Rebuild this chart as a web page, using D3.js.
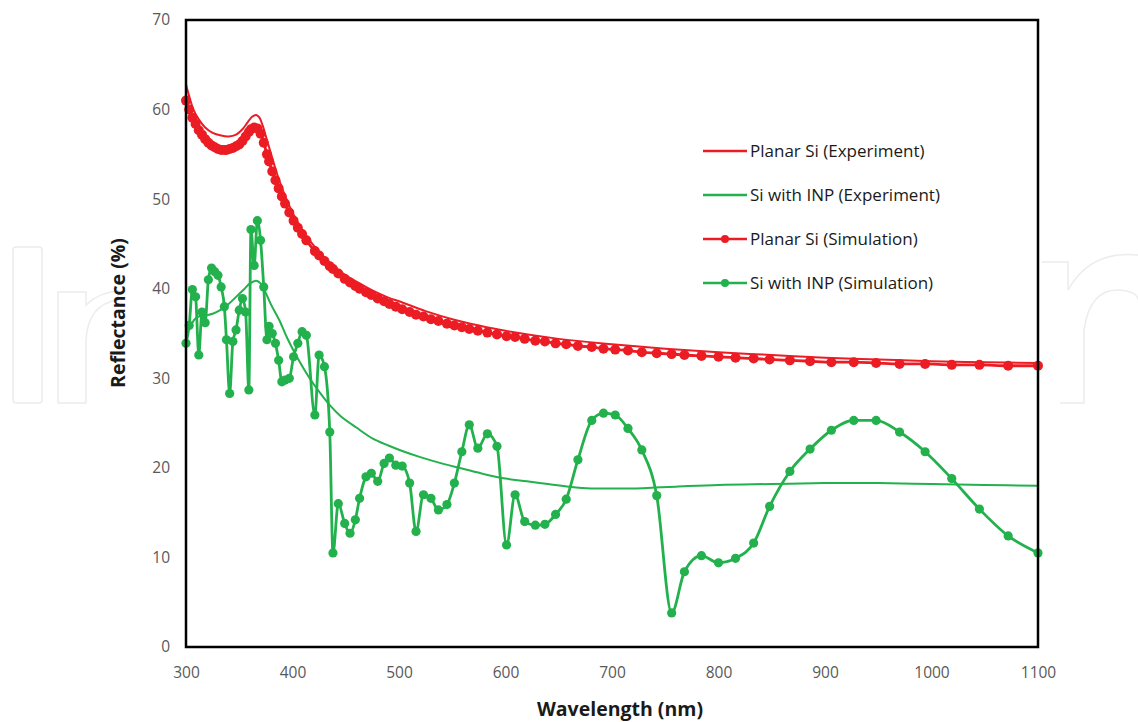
<!DOCTYPE html>
<html>
<head>
<meta charset="utf-8">
<script src="https://cdn.jsdelivr.net/npm/d3@7"></script>
<style>
  body { margin: 0; background: #fff; }
  svg { display: block; font-family: "Open Sans", "Noto Sans", sans-serif; }
</style>
</head>
<body>
<svg width="1138" height="722"></svg>
<script>
// experiment: planar Si (wavelength, reflectance)
const redExpWl  = [300, 303, 307, 312, 318, 325, 333, 340, 347, 353, 358, 362, 366, 369, 372, 376, 380, 385, 390, 395, 400, 410, 420, 430, 440, 450, 460, 475, 490, 500, 525, 550, 575, 600, 650, 700, 750, 800, 850, 900, 950, 1000, 1050, 1100]
const redExpVal = [62.8, 61.5, 60.0, 58.9, 58.0, 57.4, 57.1, 57.0, 57.2, 57.8, 58.6, 59.2, 59.4, 59.1, 58.2, 56.6, 55.0, 53.0, 51.3, 49.8, 48.5, 46.4, 44.8, 43.5, 42.4, 41.5, 40.8, 39.8, 39.0, 38.6, 37.5, 36.6, 35.9, 35.3, 34.4, 33.8, 33.3, 32.9, 32.6, 32.3, 32.1, 31.9, 31.8, 31.7]

// experiment: Si with INP
const greenExpWl  = [300, 305, 310, 318, 325, 332, 340, 348, 355, 360, 366, 370, 375, 380, 388, 395, 405, 415, 425, 435, 445, 460, 475, 490, 505, 520, 540, 560, 580, 600, 620, 640, 660, 680, 700, 720, 740, 760, 800, 850, 900, 950, 1000, 1050, 1100]
const greenExpVal = [34.8, 36.0, 36.8, 37.0, 37.2, 37.6, 38.3, 39.2, 40.0, 40.6, 40.9, 40.6, 39.5, 38.2, 36.4, 34.5, 32.2, 30.2, 28.5, 27.0, 25.8, 24.5, 23.3, 22.5, 21.8, 21.2, 20.5, 19.9, 19.3, 18.8, 18.5, 18.2, 17.9, 17.7, 17.7, 17.7, 17.8, 17.9, 18.1, 18.2, 18.3, 18.3, 18.2, 18.1, 18.0]

// simulation wavelengths (shared by both simulated series)
const simWl = [300, 303, 306, 309, 312, 315, 318, 321, 324, 327, 330, 333, 336, 338, 341, 344, 347, 350, 353, 356, 359, 361, 364, 367, 370, 373, 376, 378, 381, 384, 387, 390, 393, 397, 401, 405, 409, 413, 421, 425, 430, 435, 438, 443, 449, 454, 459, 463, 469, 474, 480, 486, 491, 497, 503, 510, 516, 523, 530, 537, 545, 552, 559, 566, 574, 583, 592, 601, 609, 618, 628, 637, 647, 657, 668, 681, 692, 703, 715, 728, 742, 756, 768, 784, 800, 816, 833, 848, 867, 886, 906, 927, 948, 970, 994, 1019, 1045, 1072, 1100]
const redSimVal = [61.0, 60.0, 59.1, 58.4, 57.7, 57.2, 56.7, 56.3, 56.0, 55.8, 55.6, 55.5, 55.5, 55.5, 55.6, 55.7, 55.9, 56.1, 56.5, 57.0, 57.5, 57.8, 58.0, 57.9, 57.3, 56.3, 55.0, 54.2, 53.1, 52.1, 51.2, 50.3, 49.5, 48.5, 47.6, 46.8, 46.1, 45.4, 44.2, 43.7, 43.1, 42.5, 42.2, 41.7, 41.1, 40.7, 40.3, 40.0, 39.6, 39.3, 38.9, 38.6, 38.3, 38.0, 37.7, 37.4, 37.1, 36.9, 36.6, 36.4, 36.1, 35.9, 35.7, 35.5, 35.3, 35.1, 34.9, 34.7, 34.6, 34.4, 34.2, 34.1, 33.9, 33.8, 33.6, 33.5, 33.3, 33.2, 33.1, 32.9, 32.8, 32.7, 32.6, 32.5, 32.4, 32.3, 32.2, 32.1, 32.0, 31.9, 31.8, 31.8, 31.7, 31.6, 31.6, 31.5, 31.5, 31.4, 31.4]
const greenSimVal = [33.9, 35.9, 39.9, 39.1, 32.6, 37.4, 36.2, 41.0, 42.3, 41.9, 41.5, 40.2, 38.0, 34.3, 28.3, 34.1, 35.4, 37.6, 38.9, 37.4, 28.7, 46.6, 42.6, 47.6, 45.4, 40.2, 34.3, 35.8, 35.0, 33.9, 32.0, 29.6, 29.8, 30.0, 32.4, 33.9, 35.2, 34.8, 25.9, 32.6, 31.3, 24.0, 10.5, 16.0, 13.8, 12.7, 14.2, 16.6, 19.0, 19.4, 18.5, 20.5, 21.1, 20.3, 20.2, 18.3, 12.9, 17.0, 16.6, 15.3, 15.9, 18.3, 21.8, 24.8, 22.2, 23.8, 22.4, 11.4, 17.0, 14.0, 13.6, 13.7, 14.8, 16.5, 20.9, 25.3, 26.1, 25.9, 24.4, 22.0, 16.9, 3.8, 8.4, 10.2, 9.4, 9.9, 11.6, 15.7, 19.6, 22.1, 24.2, 25.3, 25.3, 24.0, 21.8, 18.8, 15.4, 12.4, 10.5]

const xTicks = [300, 400, 500, 600, 700, 800, 900, 1000, 1100]
const yTicks = [0, 10, 20, 30, 40, 50, 60, 70]

const RED = "#ec1c24"
const GREEN = "#22b14c"

const zip = (a, b) => a.map((v, i) => [v, b[i]])

const series = [
    { name: "Planar Si (Experiment)", color: RED, pts: zip(redExpWl, redExpVal), dots: false, r: 0 },
    { name: "Si with INP (Experiment)", color: GREEN, pts: zip(greenExpWl, greenExpVal), dots: false, r: 0 },
    { name: "Planar Si (Simulation)", color: RED, pts: zip(simWl, redSimVal), dots: true, r: 5 },
    { name: "Si with INP (Simulation)", color: GREEN, pts: zip(simWl, greenSimVal), dots: true, r: 4.6 }
]

const svg = d3.select("svg")

// faint watermark behind the chart
const wm = svg.append("g").attr("fill", "none").attr("stroke", "#ececec").attr("stroke-width", 1.5)
wm.append("rect").attr("x", 13).attr("y", 247).attr("width", 29).attr("height", 156).attr("rx", 3)
wm.append("path").attr("d", "M58,403 L58,292 L86,292 L86,305 Q100,292 118,291 L118,300 Q88,304 86,340 L86,403 Z")
wm.append("path").attr("d", "M1138,255 Q1090,250 1068,290 L1068,262 L1042,262 M1060,403 L1084,403 L1084,330 Q1090,288 1120,290 Q1138,292 1138,300")

const x = d3.scaleLinear().domain([300, 1100]).range([186, 1038])
const y = d3.scaleLinear().domain([0, 70]).range([647, 20])

svg.append("rect")
    .attr("x", x(300)).attr("y", y(70))
    .attr("width", x(1100) - x(300)).attr("height", y(0) - y(70))
    .attr("fill", "#fff")

// axes (labels only, frame drawn separately)
const yAxis = svg.append("g")
    .attr("transform", `translate(${x(300) - 12},0)`)
    .call(d3.axisLeft(y).tickValues(yTicks).tickSize(0).tickPadding(4).tickFormat(d3.format("d")))
yAxis.select(".domain").remove()
yAxis.selectAll("text").attr("font-size", 15.5).attr("fill", "#595959")
    .attr("font-family", "'Open Sans', sans-serif")

const xAxis = svg.append("g")
    .attr("transform", `translate(0,${y(0) + 18})`)
    .call(d3.axisBottom(x).tickValues(xTicks).tickSize(0).tickPadding(2).tickFormat(d3.format("d")))
xAxis.select(".domain").remove()
xAxis.selectAll("text").attr("font-size", 15.5).attr("fill", "#595959")
    .attr("font-family", "'Open Sans', sans-serif")

const line = d3.line().x(d => x(d[0])).y(d => y(d[1]))

const plot = svg.append("g")

// simulations first, experiments on top
const order = [2, 3, 0, 1]
order.forEach(i => {
    const s = series[i]
    const g = plot.append("g")
    g.append("path")
        .datum(s.pts)
        .attr("fill", "none")
        .attr("stroke", s.color)
        .attr("stroke-width", s.dots ? 2.8 : 2)
        .attr("stroke-linejoin", "round")
        .attr("d", line.curve(s.dots ? d3.curveMonotoneX : d3.curveCatmullRom.alpha(0.5)))
    if (s.dots) {
        g.selectAll("circle")
            .data(s.pts)
            .enter().append("circle")
            .attr("cx", d => x(d[0]))
            .attr("cy", d => y(d[1]))
            .attr("r", s.r)
            .attr("fill", s.color)
    }
})

// frame
svg.append("rect")
    .attr("x", x(300)).attr("y", y(70))
    .attr("width", x(1100) - x(300)).attr("height", y(0) - y(70))
    .attr("fill", "none").attr("stroke", "#000").attr("stroke-width", 2.5)

// legend
const legend = svg.append("g").attr("transform", "translate(703,151)")
series.forEach((s, i) => {
    const row = legend.append("g").attr("transform", `translate(0,${i * 44})`)
    row.append("line").attr("x1", 0).attr("x2", 44).attr("y1", 0).attr("y2", 0)
        .attr("stroke", s.color).attr("stroke-width", 2.5)
    if (s.dots) row.append("circle").attr("cx", 22).attr("r", 4).attr("fill", s.color)
    row.append("text").attr("x", 47).attr("y", 0).attr("dy", "0.35em")
        .attr("font-size", 17).attr("fill", "#1a1a1a").text(s.name)
})

// axis titles
svg.append("text")
    .attr("x", 620).attr("y", 716)
    .attr("text-anchor", "middle").attr("font-size", 19.5).attr("font-weight", "bold")
    .attr("fill", "#1a1a1a").text("Wavelength (nm)")

svg.append("text")
    .attr("transform", "translate(125,313) rotate(-90)")
    .attr("text-anchor", "middle").attr("font-size", 19.5).attr("font-weight", "bold")
    .attr("fill", "#1a1a1a").text("Reflectance (%)")
</script>
</body>
</html>
